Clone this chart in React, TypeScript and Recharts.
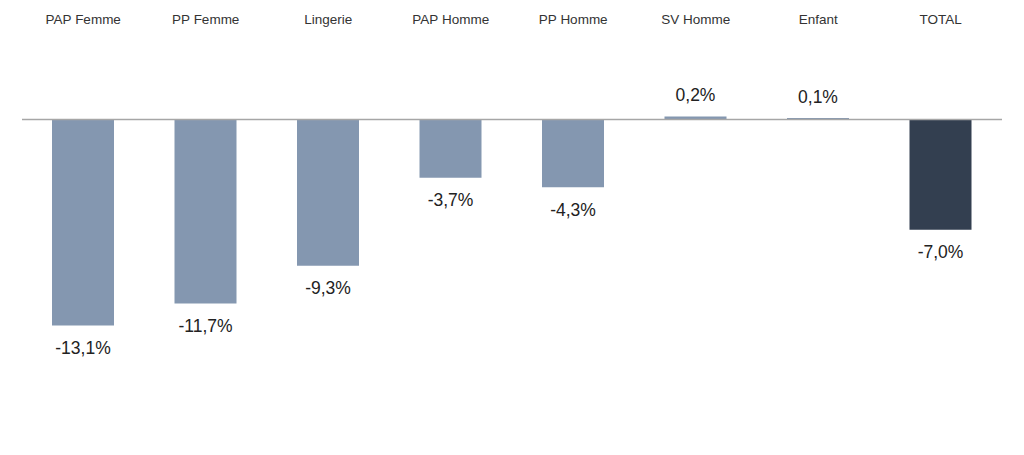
import React from "react";
import { BarChart, Bar, XAxis, YAxis, ReferenceLine, LabelList, Cell } from "recharts";

const categories = ["PAP Femme", "PP Femme", "Lingerie", "PAP Homme", "PP Homme", "SV Homme", "Enfant", "TOTAL"];
const values = [-13.1, -11.7, -9.3, -3.7, -4.3, 0.2, 0.1, -7.0];
const colors = ["#8497B0", "#8497B0", "#8497B0", "#8497B0", "#8497B0", "#8497B0", "#8497B0", "#333F50"];

const data = categories.map((c, i) => ({ name: c, value: values[i] }));

const FONT = "'Liberation Sans', Arial, sans-serif";

const fmt = (v: number) => v.toFixed(1).replace(".", ",") + "%";

const ValueLabel = (props: any) => {
  const { x, y, width, height, value } = props;
  const cx = x + width / 2;
  const top = Math.min(y, y + height);
  const bottom = Math.max(y, y + height);
  const ly = value >= 0 ? top - 20 : bottom + 24;
  return (
    <text x={cx} y={ly} textAnchor="middle" dominantBaseline="middle" fontSize={17.5} fill="#222" fontFamily={FONT}>
      {fmt(value)}
    </text>
  );
};

const TopTick = (props: any) => {
  const { x, payload } = props;
  return (
    <text x={x} y={20} textAnchor="middle" dominantBaseline="middle" fontSize={13.5} fill="#333" fontFamily={FONT}>
      {payload.value}
    </text>
  );
};

export default function App() {
  return (
    <div style={{ position: "absolute", left: 0, top: 0, width: 1024, height: 455, background: "#fff" }}>
      <BarChart width={1024} height={455} data={data} margin={{ top: 11, right: 22, bottom: 21, left: 22 }}>
        <XAxis dataKey="name" orientation="top" height={30} axisLine={false} tickLine={false} tick={<TopTick />} interval={0} />
        <YAxis hide domain={[-20, 5]} type="number" allowDataOverflow />
        <ReferenceLine y={0} stroke="#A6A6A6" strokeWidth={1.5} />
        <Bar dataKey="value" barSize={62} isAnimationActive={false}>
          {data.map((d, i) => (
            <Cell key={d.name} fill={colors[i]} />
          ))}
          <LabelList dataKey="value" content={<ValueLabel />} />
        </Bar>
      </BarChart>
    </div>
  );
}
